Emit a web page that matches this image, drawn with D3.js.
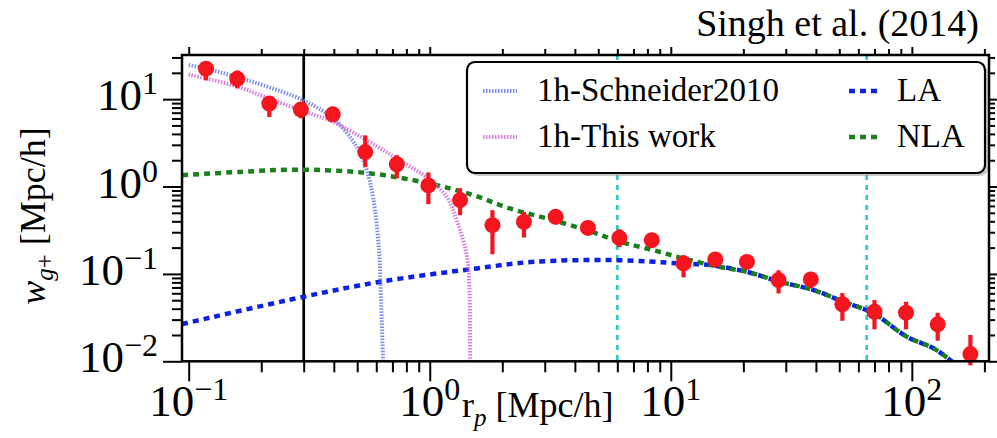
<!DOCTYPE html>
<html><head><meta charset="utf-8">
<script src="https://cdn.jsdelivr.net/npm/d3@7"></script>
<style>body{margin:0;background:#fff} svg{display:block}</style>
</head><body>
<svg id="c" width="997" height="438"></svg>
<script>
// ---- data ----
const rp    = [0.118,0.159,0.216,0.292,0.396,0.54,0.73,0.987,1.336,1.82,2.46,3.33,4.53,6.12,8.34,11.3,15.3,20.7,28.0,38.1,51.5,70,94.6,128,175];
const wgp   = [22.3,17.1,8.9,7.6,6.7,2.48,1.8,1.03,0.70,0.361,0.394,0.45,0.336,0.259,0.243,0.132,0.1466,0.137,0.085,0.0865,0.045,0.0369,0.036,0.0265,0.0121];
const wgpLo = [16.4,13.3,6.24,6.04,5.9,1.67,1.24,0.628,0.471,0.168,0.261,0.37,0.28,0.202,0.20,0.0913,0.123,0.117,0.0598,0.0687,0.0291,0.0232,0.0232,0.0172,0.009];
const wgpHi = [26.5,21.3,10.6,8.95,7.6,3.85,2.28,1.45,0.956,0.536,0.513,0.54,0.40,0.325,0.285,0.164,0.173,0.164,0.110,0.105,0.0603,0.0502,0.048,0.0359,0.02];

const schR = [0.1,0.1264,0.158,0.204,0.299,0.398,0.498,0.548,0.583,0.616,0.628,0.640,0.645];
const schW = [24.6,21.3,17.9,14.4,9.7,5.98,2.84,1.53,0.734,0.187,0.0502,0.0101,0.005];

const thisR = [0.1,0.158,0.216,0.299,0.398,0.548,0.730,0.986,1.176,1.294,1.424,1.459,1.469,1.47];
const thisW = [19.2,14.0,10.1,7.31,5.47,3.38,2.09,1.23,0.76,0.412,0.164,0.0745,0.0228,0.005];

const nlaR = [0.094,0.163,0.281,0.548,1.00,1.52,2.15,3.06,4.48,6.16,8.47,11.3,16.0,20.7,28.4,39.1,52.0,69.3,95.3,123,149,160];
const nlaW = [1.35,1.47,1.56,1.43,1.08,0.796,0.561,0.431,0.317,0.233,0.187,0.150,0.120,0.1056,0.0812,0.0653,0.048,0.0354,0.0191,0.0141,0.0096,0.008];

const laR = [0.094,0.299,0.622,1.567,2.69,5.97,10.9,14.6,20.7,28.4,39.1,52.0,69.3,95.3,123,149,160];
const laW = [0.0267,0.0547,0.0813,0.1156,0.1375,0.1438,0.132,0.126,0.1056,0.0812,0.0653,0.048,0.0354,0.0191,0.0141,0.0096,0.008];

const vlineBlack = [0.3];
const vlineCyan = [6, 65];

const xMajor = [0.1, 1, 10, 100];
const xExp = ["\u22121", "0", "1", "2"];
const xMinor = [0.2,0.3,0.4,0.5,0.6,0.7,0.8,0.9,2,3,4,5,6,7,8,9,20,30,40,50,60,70,80,90,200];
const yMajor = [0.01, 0.1, 1, 10];
const yExp = ["\u22122", "\u22121", "0", "1"];
const yMinor = [0.02,0.03,0.04,0.05,0.06,0.07,0.08,0.09,0.2,0.3,0.4,0.5,0.6,0.7,0.8,0.9,2,3,4,5,6,7,8,9,20,30];

const legendItems = [
  {label:"1h-Schneider2010", key:"sch", col:0, row:0},
  {label:"1h-This work", key:"this", col:0, row:1},
  {label:"LA", key:"la", col:1, row:0},
  {label:"NLA", key:"nla", col:1, row:1}
];

// ---- styles ----
const styles = {
  sch:  {stroke:"#6b7ff0", width:4, dash:"1.5,1.5", opacity:0.9},
  this: {stroke:"#d46fd8", width:4, dash:"1.5,1.5", opacity:0.9},
  la:   {stroke:"#0b22e6", width:4.5, dash:"6,5", opacity:1},
  nla:  {stroke:"#1b7f1b", width:4.5, dash:"6,5", opacity:1}
};

const svg = d3.select("#c");
const L=182, R=989, T=55, B=361.3;
const x = d3.scaleLog().domain([0.0938, 209]).range([L, R]);
const y = d3.scaleLog().domain([0.01, 32]).range([B, T]);
const serif = "'Liberation Serif','Times New Roman',serif";

svg.append("defs").append("clipPath").attr("id","clip")
  .append("rect").attr("x",L).attr("y",T).attr("width",R-L).attr("height",B-T);

// vertical reference lines
svg.selectAll(".vb").data(vlineBlack).enter().append("line")
  .attr("x1",d=>x(d)).attr("x2",d=>x(d)).attr("y1",T).attr("y2",B)
  .attr("stroke","#000").attr("stroke-width",2.7);
svg.selectAll(".vc").data(vlineCyan).enter().append("line")
  .attr("x1",d=>x(d)).attr("x2",d=>x(d)).attr("y1",T).attr("y2",B)
  .attr("stroke","#35c6c6").attr("stroke-width",2.7).attr("stroke-dasharray","5,5");

// curves
const line = d3.line().x(d=>x(d[0])).y(d=>y(d[1])).curve(d3.curveCatmullRom.alpha(0.5));
const curves = [
  {key:"la", r:laR, w:laW},
  {key:"nla", r:nlaR, w:nlaW},
  {key:"sch", r:schR, w:schW},
  {key:"this", r:thisR, w:thisW}
];
const cg = svg.append("g").attr("clip-path","url(#clip)");
curves.forEach(c=>{
  const s = styles[c.key];
  cg.append("path").datum(c.r.map((r,i)=>[r,c.w[i]]))
    .attr("d", line).attr("fill","none")
    .attr("stroke",s.stroke).attr("stroke-width",s.width)
    .attr("stroke-dasharray",s.dash).attr("stroke-opacity",s.opacity);
});

// data points with error bars
const pts = rp.map((r,i)=>({r, w:wgp[i], lo:wgpLo[i], hi:wgpHi[i]}));
const pg = svg.append("g");
pg.selectAll(".eb").data(pts).enter().append("line")
  .attr("x1",d=>x(d.r)).attr("x2",d=>x(d.r))
  .attr("y1",d=>Math.min(y(d.lo), B+4)).attr("y2",d=>y(d.hi))
  .attr("stroke","#f4161e").attr("stroke-width",4.2);
pg.selectAll(".pt").data(pts).enter().append("circle")
  .attr("cx",d=>x(d.r)).attr("cy",d=>y(d.w)).attr("r",8)
  .attr("fill","#f4161e");

// axes ticks
function styleAxis(g){ g.select(".domain").remove(); g.selectAll("line").attr("stroke","#000").attr("stroke-width",2); }
svg.append("g").attr("transform",`translate(0,${B})`)
  .call(d3.axisBottom(x).tickValues(xMajor).tickSize(20).tickSizeOuter(0).tickFormat("")).call(styleAxis);
svg.append("g").attr("transform",`translate(0,${B})`)
  .call(d3.axisBottom(x).tickValues(xMinor).tickSize(11).tickSizeOuter(0).tickFormat("")).call(styleAxis);
svg.append("g").attr("transform",`translate(0,${T})`)
  .call(d3.axisTop(x).tickValues(xMajor).tickSize(8).tickSizeOuter(0).tickFormat("")).call(styleAxis);
svg.append("g").attr("transform",`translate(0,${T})`)
  .call(d3.axisTop(x).tickValues(xMinor).tickSize(6).tickSizeOuter(0).tickFormat("")).call(styleAxis);
svg.append("g").attr("transform",`translate(${L},0)`)
  .call(d3.axisLeft(y).tickValues(yMajor).tickSize(19).tickSizeOuter(0).tickFormat("")).call(styleAxis);
svg.append("g").attr("transform",`translate(${L},0)`)
  .call(d3.axisLeft(y).tickValues(yMinor).tickSize(10).tickSizeOuter(0).tickFormat("")).call(styleAxis);
svg.append("g").attr("transform",`translate(${R},0)`)
  .call(d3.axisRight(y).tickValues(yMajor).tickSize(9).tickSizeOuter(0).tickFormat("")).call(styleAxis);
svg.append("g").attr("transform",`translate(${R},0)`)
  .call(d3.axisRight(y).tickValues(yMinor).tickSize(6).tickSizeOuter(0).tickFormat("")).call(styleAxis);

// frame
svg.append("rect").attr("x",L).attr("y",T).attr("width",R-L).attr("height",B-T)
  .attr("fill","none").attr("stroke","#000").attr("stroke-width",2.5);

// tick labels
xMajor.forEach((v,i)=>{
  const t = svg.append("text").attr("x",x(v)).attr("y",416).attr("text-anchor","middle")
    .attr("font-family",serif).attr("font-size",45).attr("fill","#000");
  t.append("tspan").text("10");
  t.append("tspan").attr("font-size",32).attr("dy",-16).text(xExp[i]);
});
yMajor.forEach((v,i)=>{
  const t = svg.append("text").attr("x",158).attr("y",y(v)+11).attr("text-anchor","end")
    .attr("font-family",serif).attr("font-size",45).attr("fill","#000");
  t.append("tspan").text("10");
  t.append("tspan").attr("font-size",32).attr("dy",-16).text(yExp[i]);
});

// axis labels
const xl = svg.append("text").attr("x",462).attr("y",417).attr("font-family",serif).attr("font-size",36).attr("fill","#000");
xl.append("tspan").text("r");
xl.append("tspan").attr("font-size",25).attr("font-style","italic").attr("dy",9).text("p");
xl.append("tspan").attr("dy",-9).text(" [Mpc/h]");

const yl = svg.append("text").attr("transform","translate(45,216) rotate(-90)").attr("text-anchor","middle")
  .attr("font-family",serif).attr("font-size",36).attr("fill","#000");
yl.append("tspan").attr("font-style","italic").text("w");
yl.append("tspan").attr("font-size",25).attr("dy",8).html("<tspan font-style='italic'>g</tspan>+");
yl.append("tspan").attr("dy",-8).text(" [Mpc/h]");

// legend
const lg = svg.append("g");
lg.append("rect").attr("x",470).attr("y",65).attr("width",518).attr("height",111).attr("rx",8)
  .attr("fill","#888").attr("opacity",0.45);
lg.append("rect").attr("x",467).attr("y",62).attr("width",518).attr("height",111).attr("rx",8)
  .attr("fill","#fff").attr("stroke","#000").attr("stroke-width",2.2);
const colX = [{x1:483,x2:517,tx:537},{x1:849,x2:879,tx:897}];
const rowY = [91, 137];
legendItems.forEach(it=>{
  const s = styles[it.key], c = colX[it.col], yy = rowY[it.row];
  lg.append("line").attr("x1",c.x1).attr("x2",c.x2).attr("y1",yy).attr("y2",yy)
    .attr("stroke",s.stroke).attr("stroke-width",s.width).attr("stroke-dasharray",s.dash).attr("stroke-opacity",s.opacity);
  lg.append("text").attr("x",c.tx).attr("y",yy+10).attr("font-family",serif).attr("font-size",33)
    .attr("fill","#000").text(it.label);
});

// citation
svg.append("text").attr("x",979).attr("y",36).attr("text-anchor","end")
  .attr("font-family",serif).attr("font-size",38).attr("fill","#000").text("Singh et al. (2014)");
</script>
</body></html>
